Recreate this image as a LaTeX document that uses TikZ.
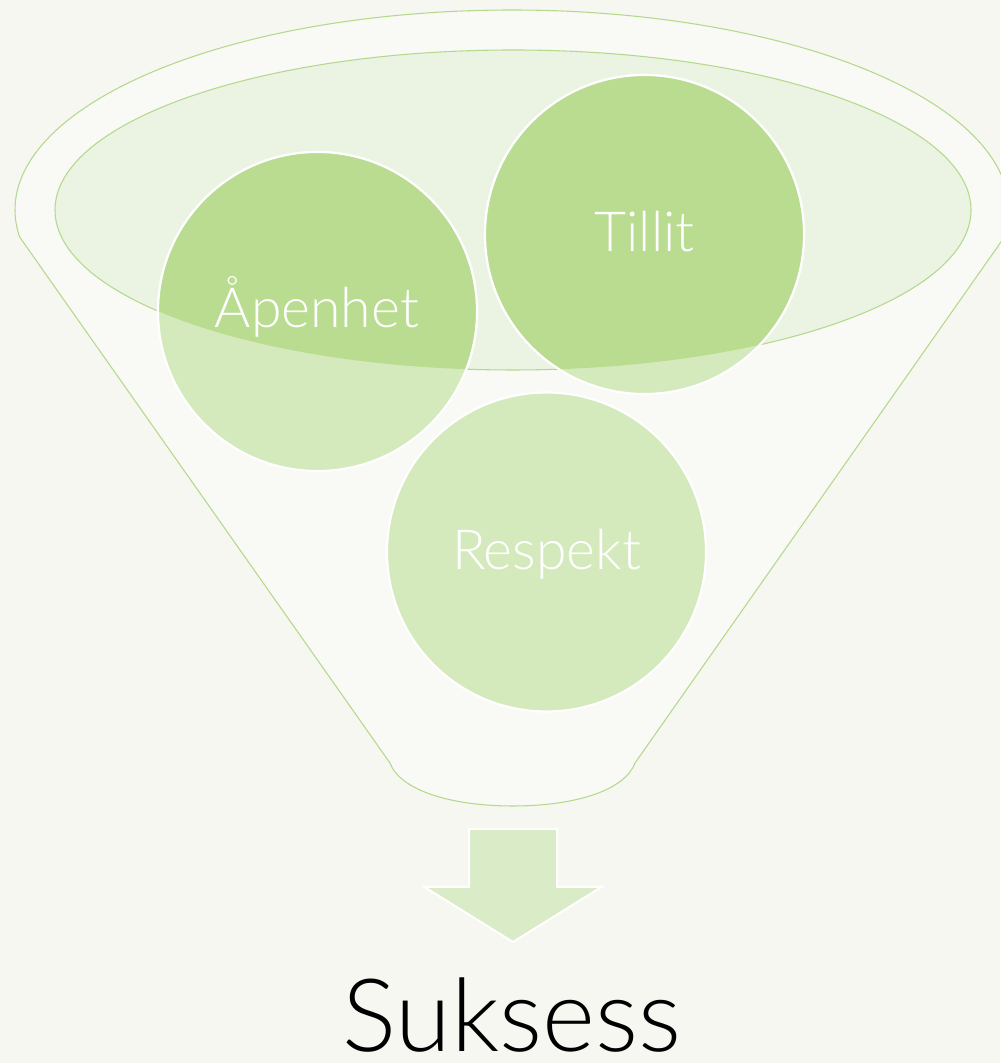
\documentclass[tikz,border=0pt]{standalone}
\usepackage{fontspec}
\IfFontExistsTF{Lato Light}{\setmainfont{Lato Light}}{\setmainfont{Lato}}
\definecolor{bgcol}{HTML}{F6F7F1}
\definecolor{funnelfill}{HTML}{F9F9F6}
\definecolor{funneldraw}{HTML}{B5D98C}
\definecolor{innerfill}{HTML}{EBF4E2}
\definecolor{circlight}{HTML}{D4EABC}
\definecolor{circdark}{HTML}{B9DC91}
\definecolor{arrowfill}{HTML}{D9EBC7}
\tikzset{
  funnelshape/.style={fill=funnelfill, draw=funneldraw, line width=0.8pt},
  innershape/.style={fill=innerfill, draw=funneldraw, line width=0.8pt},
  bubble/.style={circle, inner sep=0pt, minimum size=239.25pt, fill=circlight, draw=white, line width=1.6pt},
  bubbledark/.style={fill=circdark, draw=white, line width=1.6pt},
  lbl/.style={anchor=base, inner sep=0pt, text=white, font=\fontsize{41.5}{44}\selectfont},
  biglbl/.style={anchor=base, inner sep=0pt, text=black, font=\fontsize{76}{80}\selectfont},
  downarrow/.style={fill=arrowfill, draw=white, line width=1.5pt}
}
\begin{document}
\begin{tikzpicture}[x=0.75pt,y=0.75pt]
\useasboundingbox (0,0) rectangle (1000,1063);
\fill[bgcol] (0,0) rectangle (1000,1063);
% funnel
\path[funnelshape] (19.6,826) arc[start angle=187.76,end angle=-7.76,x radius=497,y radius=200]
  -- (635,300) .. controls (625,273) and (576,257) .. (513,257)
  .. controls (450,257) and (400,273) .. (390,300) -- cycle;
% inner ellipse
\path[innershape] (513,853) ellipse [x radius=458, y radius=160];
% circles
\node[bubble] (apen) at (317.5,751.5) {};
\node[bubble] (till) at (644.5,828.5) {};
\node[bubble] (resp) at (546.5,511) {};
\begin{scope}
  \clip (513,853) ellipse [x radius=458, y radius=160];
  \path[bubbledark] (apen.center) circle [radius=159.5];
  \path[bubbledark] (till.center) circle [radius=159.5];
  \path[bubbledark] (resp.center) circle [radius=159.5];
\end{scope}
% labels
\node[lbl] (tA) at (317,735) {Åpenhet};
\node[lbl] (tT) at (644.5,811) {Tillit};
\node[lbl] (tR) at (546.5,493) {Respekt};
% arrow
\path[downarrow] (469,234) -- (557,234) -- (557,176) -- (601.5,176) -- (513,121)
  -- (424.5,176) -- (469,176) -- cycle;
\node[biglbl] (tS) at (512,12) {Suksess};
\end{tikzpicture}
\end{document}
